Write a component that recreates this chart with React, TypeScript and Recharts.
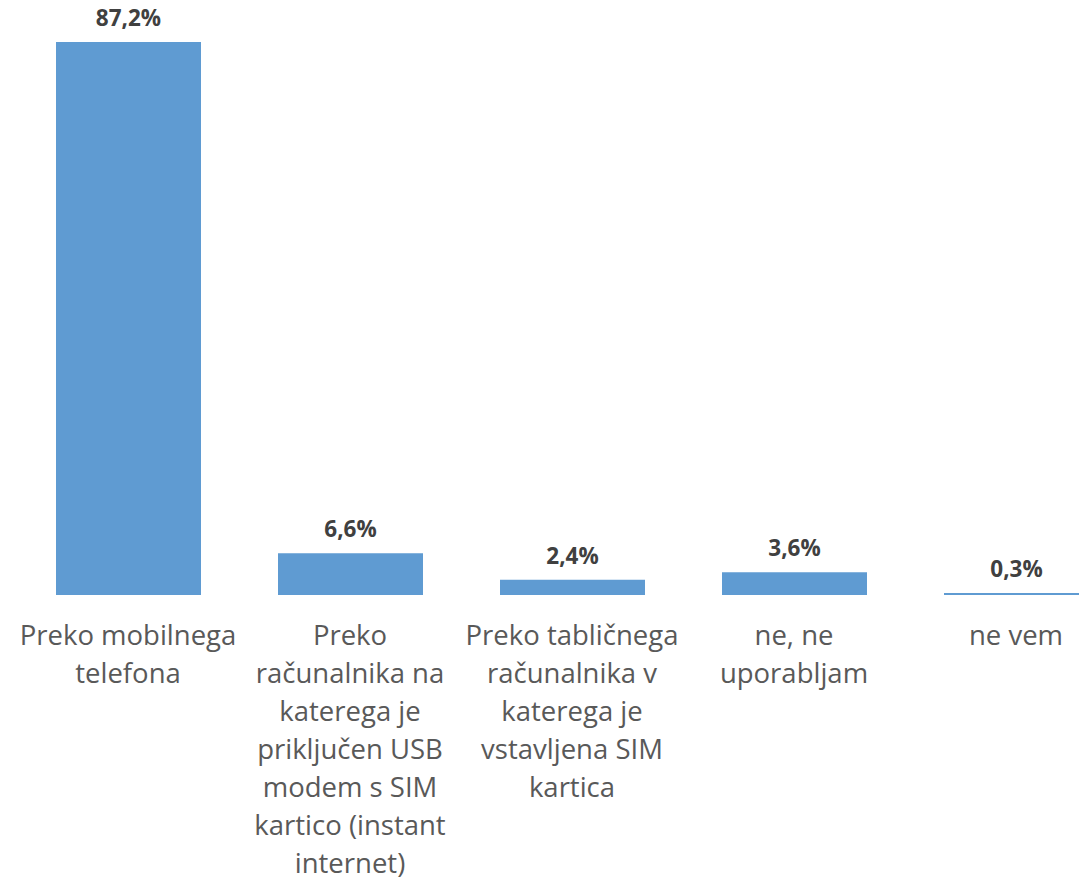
import { BarChart, Bar, XAxis, YAxis, LabelList } from 'recharts';

const categories = [
  'Preko mobilnega\ntelefona',
  'Preko\nračunalnika na\nkaterega je\npriključen USB\nmodem s SIM\nkartico (instant\ninternet)',
  'Preko tabličnega\nračunalnika v\nkaterega je\nvstavljena SIM\nkartica',
  'ne, ne\nuporabljam',
  'ne vem',
];
const shares = [87.2, 6.6, 2.4, 3.6, 0.3];

const chartData = categories.map((name, i) => ({ name, value: shares[i] }));

const FONT = "'Open Sans', 'Noto Sans', sans-serif";

function fmtPct(v: number): string {
  return `${v.toFixed(1).replace('.', ',')}%`;
}

// Category labels are pre-broken into lines, like the original Excel wrap.
function CategoryTick({ x, y, payload }: any) {
  const lines = String(payload.value).split('\n');
  return (
    <text x={x} y={y} textAnchor="middle" fill="#595959" fontSize={27.5} fontFamily={FONT}>
      {lines.map((line, i) => (
        <tspan key={i} x={x} dy={i === 0 ? 50 : 38}>
          {line}
        </tspan>
      ))}
    </text>
  );
}

export default function App() {
  return (
    <div style={{ position: 'fixed', left: 0, top: 0, width: 1079, height: 885, overflow: 'hidden', background: 'white' }}>
      <BarChart
        width={1140}
        height={885}
        data={chartData}
        margin={{ top: 42, right: 13, left: 17, bottom: 0 }}
        barSize={145}
      >
        <XAxis
          dataKey="name"
          height={290}
          axisLine={false}
          tickLine={false}
          tickSize={0}
          tickMargin={0}
          interval={0}
          tick={<CategoryTick />}
        />
        <YAxis hide domain={[0, 'dataMax']} />
        <Bar dataKey="value" fill="#5F9BD2" isAnimationActive={false}>
          <LabelList
            dataKey="value"
            position="top"
            offset={16}
            formatter={(v: any) => fmtPct(Number(v))}
            style={{ fontSize: 22.5, fontWeight: 700, fill: '#404040', fontFamily: FONT }}
          />
        </Bar>
      </BarChart>
    </div>
  );
}
